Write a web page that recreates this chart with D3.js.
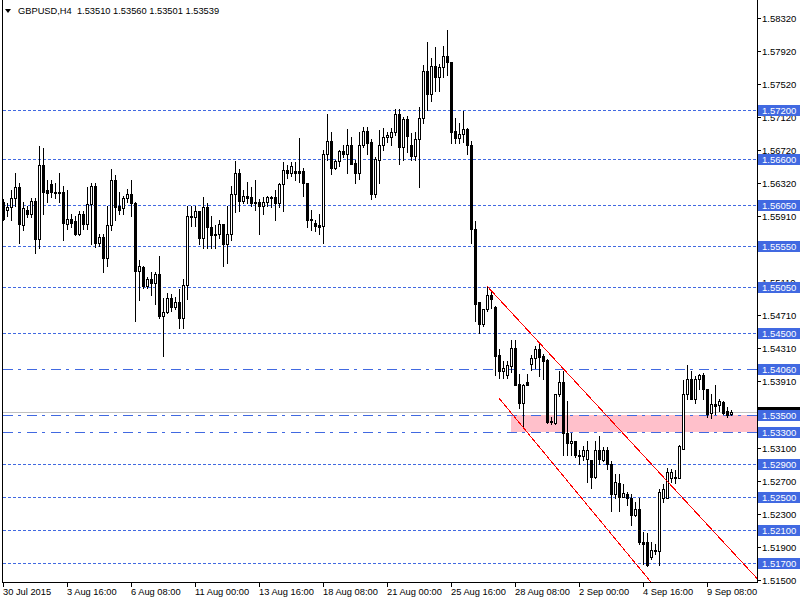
<!DOCTYPE html>
<html><head><meta charset="utf-8">
<script src="https://cdn.jsdelivr.net/npm/d3@7"></script>
<style>html,body{margin:0;padding:0;background:#fff;} svg{display:block;} text{font-family:"Liberation Sans",Arial,sans-serif;}</style>
</head><body><svg id="c" width="800" height="600"></svg>
<script>
const symbol = "GBPUSD,H4";
const open = [1.5609,1.5599,1.5602,1.5613,1.5626,1.5581,1.5599,1.5594,1.5610,1.5564,
1.5653,1.5623,1.5630,1.5621,1.5620,1.5620,1.5582,1.5588,1.5585,1.5570,
1.5594,1.5582,1.5606,1.5628,1.5559,1.5566,1.5540,1.5580,1.5635,1.5603,
1.5601,1.5613,1.5618,1.5607,1.5525,1.5530,1.5507,1.5515,1.5510,1.5521,
1.5470,1.5475,1.5492,1.5481,1.5487,1.5468,1.5508,1.5592,1.5590,1.5597,
1.5565,1.5602,1.5578,1.5570,1.5569,1.5582,1.5557,1.5570,1.5618,1.5644,
1.5610,1.5616,1.5614,1.5609,1.5609,1.5604,1.5608,1.5615,1.5614,1.5607,
1.5630,1.5647,1.5643,1.5646,1.5646,1.5646,1.5631,1.5588,1.5583,1.5580,
1.5579,1.5667,1.5682,1.5650,1.5658,1.5670,1.5667,1.5678,1.5656,1.5643,
1.5677,1.5694,1.5681,1.5618,1.5659,1.5678,1.5687,1.5687,1.5693,1.5715,
1.5675,1.5709,1.5677,1.5664,1.5685,1.5710,1.5767,1.5739,1.5773,1.5760,
1.5772,1.5786,1.5778,1.5694,1.5686,1.5691,1.5697,1.5677,1.5576,1.5487,
1.5460,1.5478,1.5496,1.5481,1.5423,1.5403,1.5398,1.5409,1.5431,1.5388,
1.5364,1.5390,1.5412,1.5419,1.5430,1.5421,1.5417,1.5343,1.5340,1.5375,
1.5390,1.5328,1.5316,1.5318,1.5302,1.5300,1.5297,1.5295,1.5275,1.5307,
1.5296,1.5307,1.5290,1.5254,1.5268,1.5251,1.5254,1.5249,1.5229,1.5236,
1.5196,1.5196,1.5178,1.5185,1.5185,1.5249,1.5249,1.5273,1.5273,1.5273,
1.5309,1.5376,1.5394,1.5370,1.5394,1.5398,1.5381,1.5352,1.5363,1.5362,
1.5366,1.5355,1.53510];
const high = [1.5612,1.5607,1.5623,1.5643,1.5631,1.5608,1.5604,1.5613,1.5613,1.5676,
1.5674,1.5635,1.5635,1.5631,1.5643,1.5628,1.5623,1.5594,1.5591,1.5598,
1.5598,1.5627,1.5632,1.5631,1.5569,1.5569,1.5603,1.5649,1.5641,1.5620,
1.5616,1.5624,1.5635,1.5608,1.5538,1.5531,1.5518,1.5523,1.5523,1.5543,
1.5492,1.5498,1.5497,1.5493,1.5503,1.5515,1.5604,1.5603,1.5603,1.5598,
1.5615,1.5607,1.5591,1.5580,1.5587,1.5582,1.5603,1.5628,1.5658,1.5648,
1.5623,1.5633,1.5626,1.5635,1.5612,1.5614,1.5616,1.5616,1.5623,1.5631,
1.5657,1.5653,1.5657,1.5657,1.5686,1.5650,1.5632,1.5599,1.5587,1.5594,
1.5671,1.5715,1.5693,1.5659,1.5671,1.5677,1.5697,1.5687,1.5659,1.5693,
1.5699,1.5699,1.5685,1.5663,1.5696,1.5698,1.5693,1.5698,1.5721,1.5721,
1.5711,1.5713,1.5692,1.5693,1.5724,1.5775,1.5802,1.5783,1.5797,1.5776,
1.5798,1.5817,1.5778,1.5710,1.5704,1.5719,1.5698,1.5682,1.5585,1.5487,
1.5478,1.5506,1.5502,1.5482,1.5430,1.5415,1.5415,1.5441,1.5441,1.5400,
1.5388,1.5400,1.5423,1.5434,1.5437,1.5424,1.5418,1.5348,1.5375,1.5403,
1.5403,1.5367,1.5328,1.5319,1.5308,1.5313,1.5319,1.5295,1.5318,1.5324,
1.5311,1.5311,1.5294,1.5278,1.5278,1.5266,1.5257,1.5254,1.5245,1.5249,
1.5208,1.5207,1.5196,1.5193,1.5260,1.5266,1.5286,1.5285,1.5283,1.5314,
1.5393,1.5411,1.5403,1.5397,1.5400,1.5401,1.5382,1.5375,1.5387,1.5370,
1.5367,1.5360,1.53560];
const low = [1.5586,1.5591,1.5587,1.5604,1.5559,1.5574,1.5590,1.5590,1.5546,1.5553,
1.5594,1.5609,1.5614,1.5613,1.5608,1.5562,1.5576,1.5578,1.5568,1.5568,
1.5576,1.5576,1.5558,1.5554,1.5555,1.5523,1.5531,1.5574,1.5587,1.5594,
1.5594,1.5608,1.5592,1.5464,1.5489,1.5504,1.5504,1.5495,1.5485,1.5468,
1.5421,1.5474,1.5476,1.5479,1.5456,1.5456,1.5491,1.5579,1.5579,1.5557,
1.5553,1.5553,1.5553,1.5553,1.5565,1.5531,1.5535,1.5562,1.5596,1.5598,
1.5607,1.5607,1.5603,1.5599,1.5570,1.5594,1.5603,1.5602,1.5587,1.5602,
1.5597,1.5638,1.5640,1.5635,1.5633,1.5616,1.5578,1.5575,1.5573,1.5570,
1.5559,1.5659,1.5642,1.5649,1.5652,1.5663,1.5643,1.5655,1.5632,1.5636,
1.5675,1.5667,1.5612,1.5614,1.5632,1.5671,1.5681,1.5677,1.5690,1.5655,
1.5659,1.5669,1.5659,1.5659,1.5627,1.5704,1.5720,1.5731,1.5743,1.5743,
1.5760,1.5763,1.5680,1.5680,1.5680,1.5681,1.5667,1.5559,1.5464,1.5450,
1.5458,1.5476,1.5480,1.5398,1.5395,1.5395,1.5395,1.5402,1.5386,1.5358,
1.5334,1.5386,1.5404,1.5407,1.5397,1.5394,1.5340,1.5339,1.5339,1.5373,
1.5302,1.5302,1.5302,1.5299,1.5290,1.5295,1.5269,1.5261,1.5274,1.5290,
1.5294,1.5285,1.5233,1.5249,1.5233,1.5250,1.5241,1.5217,1.5227,1.5194,
1.5169,1.5167,1.5175,1.5182,1.5168,1.5245,1.5249,1.5269,1.5268,1.5273,
1.5309,1.5370,1.5369,1.5364,1.5381,1.5370,1.5348,1.5346,1.5351,1.5355,
1.5351,1.5348,1.53501];
const close = [1.5588,1.5602,1.5613,1.5626,1.5582,1.5601,1.5594,1.5610,1.5564,1.5653,
1.5621,1.5619,1.5620,1.5619,1.5619,1.5583,1.5588,1.5583,1.5570,1.5594,
1.5582,1.5606,1.5628,1.5559,1.5566,1.5540,1.5580,1.5635,1.5602,1.5599,
1.5613,1.5618,1.5607,1.5525,1.5531,1.5507,1.5515,1.5510,1.5521,1.5470,
1.5475,1.5492,1.5481,1.5487,1.5468,1.5508,1.5592,1.5590,1.5597,1.5565,
1.5602,1.5578,1.5568,1.5568,1.5582,1.5557,1.5570,1.5618,1.5644,1.5610,
1.5616,1.5613,1.5607,1.5607,1.5604,1.5609,1.5615,1.5613,1.5607,1.5630,
1.5647,1.5643,1.5652,1.5644,1.5644,1.5631,1.5587,1.5586,1.5579,1.5578,
1.5667,1.5682,1.5650,1.5658,1.5670,1.5667,1.5677,1.5655,1.5643,1.5678,
1.5694,1.5680,1.5618,1.5660,1.5678,1.5687,1.5690,1.5693,1.5715,1.5675,
1.5709,1.5689,1.5664,1.5685,1.5710,1.5767,1.5739,1.5773,1.5760,1.5772,
1.5786,1.5778,1.5693,1.5686,1.5691,1.5697,1.5677,1.5576,1.5485,1.5460,
1.5478,1.5495,1.5491,1.5421,1.5403,1.5407,1.5411,1.5431,1.5387,1.5364,
1.5386,1.5386,1.5419,1.5430,1.5420,1.5415,1.5342,1.5341,1.5375,1.5390,
1.5328,1.5316,1.5318,1.5301,1.5300,1.5307,1.5307,1.5275,1.5307,1.5297,
1.5307,1.5290,1.5254,1.5269,1.5251,1.5256,1.5249,1.5229,1.5236,1.5196,
1.5194,1.5168,1.5186,1.5186,1.5257,1.5260,1.5281,1.5281,1.5275,1.5312,
1.5376,1.5394,1.5370,1.5394,1.5398,1.5381,1.5351,1.5363,1.5361,1.5367,
1.5353,1.5350,1.53539];

const dashedLevels = [1.5720,1.5660,1.5605,1.5555,1.5505,1.5450,1.5290,1.5250,1.5210,1.5170];
const dashDotLevels = [1.5406,1.5350,1.5330];
// price scale labels that remain visible (1.55510 and 1.53510 sit fully under level tags in the reference)
const priceTicks = [1.5832,1.5792,1.5752,1.5712,1.5672,1.5632,1.5591,1.5511,1.5471,1.5431,1.5391,1.5310,1.5270,1.5230,1.5190,1.5150];
const priceTickMarks = [1.5832,1.5792,1.5752,1.5712,1.5672,1.5632,1.5591,1.5551,1.5511,1.5471,1.5431,1.5391,1.5351,1.5310,1.5270,1.5230,1.5190,1.5150];
const timeTickBars = [0,16,32,48,64,80,96,112,128,144,160,176];
const timeTickLabels = ["30 Jul 2015","3 Aug 16:00","6 Aug 08:00","11 Aug 00:00","13 Aug 16:00","18 Aug 08:00","21 Aug 00:00","25 Aug 16:00","28 Aug 08:00","2 Sep 00:00","4 Sep 16:00","9 Sep 08:00"];
const upperLine = [[121,1.5506],[184,1.5175]];
const lowerLine = [[124,1.5370],[161,1.51527]];
const zoneBars = [127,260];
const zonePrices = [1.5350,1.5330];

const svg = d3.select("#c").attr("shape-rendering","crispEdges");
const n = open.length;
const x = d3.scaleLinear().domain([0, n-1]).range([3.3, 3.3 + 4*(n-1)]);
const y = d3.scaleLinear().domain([1.5170, 1.5720]).range([563.4, 110]);
const R = 757, B = 582, L = 2;
const BLUE = "#4169E1";
const fmt = d3.format(".5f");
const row = p => Math.round(y(p));

svg.append("defs").append("clipPath").attr("id","plot")
  .append("rect").attr("x",L+1).attr("y",0).attr("width",R-L-1).attr("height",B);

const plot = svg.append("g").attr("clip-path","url(#plot)");

plot.append("rect")
  .attr("x", Math.round(x(zoneBars[0])))
  .attr("y", row(zonePrices[0]))
  .attr("width", Math.round(x(zoneBars[1])) - Math.round(x(zoneBars[0])))
  .attr("height", row(zonePrices[1]) - row(zonePrices[0]))
  .attr("fill","#FFC0CB");

plot.selectAll(".dl").data(dashedLevels).join("line")
  .attr("x1",L+1).attr("x2",R).attr("y1",d=>row(d)+0.5).attr("y2",d=>row(d)+0.5)
  .attr("stroke",BLUE).attr("stroke-width",1).attr("stroke-dasharray","3,2");
plot.selectAll(".ddl").data(dashDotLevels).join("line")
  .attr("x1",L+1).attr("x2",R).attr("y1",d=>row(d)+0.5).attr("y2",d=>row(d)+0.5)
  .attr("stroke",BLUE).attr("stroke-width",1).attr("stroke-dasharray","10,5,3,6");
const last = close[n-1];
plot.append("line").attr("x1",L+1).attr("x2",R).attr("y1",row(last)+0.5).attr("y2",row(last)+0.5)
  .attr("stroke","#C0C0C0");

const cg = plot.append("g");
d3.range(n).forEach(i => {
  const cx = Math.floor(x(i));
  const o = open[i], c = close[i];
  const yh = row(high[i]), yl = row(low[i]);
  cg.append("rect").attr("x",cx).attr("y",yh).attr("width",1).attr("height",yl-yh+1).attr("fill","#000");
  const top = Math.min(row(o),row(c)), bot = Math.max(row(o),row(c));
  if (c < o || bot - top < 2) {
    cg.append("rect").attr("x",cx-1).attr("y",top).attr("width",3).attr("height",bot-top+1).attr("fill","#000");
  } else {
    cg.append("rect").attr("x",cx-0.5).attr("y",top+0.5).attr("width",2).attr("height",bot-top)
      .attr("fill","#fff").attr("stroke","#000").attr("stroke-width",1);
  }
});

function ray(pts){
  const [a,b] = pts;
  const s = (b[1]-a[1])/(b[0]-a[0]);
  const b2 = 260;
  return [[x(a[0]), y(a[1])],[x(b2), y(a[1]+s*(b2-a[0]))]];
}
[upperLine, lowerLine].forEach(pts => {
  const seg = ray(pts);
  plot.append("line").attr("x1",seg[0][0]).attr("y1",seg[0][1]).attr("x2",seg[1][0]).attr("y2",seg[1][1])
    .attr("stroke","#FF0000").attr("stroke-width",1);
});

svg.append("rect").attr("x",L).attr("y",0).attr("width",1).attr("height",B+1).attr("fill","#000");
svg.append("rect").attr("x",R).attr("y",0).attr("width",1).attr("height",B+1).attr("fill","#000");
svg.append("rect").attr("x",L).attr("y",B).attr("width",R-L+1).attr("height",1).attr("fill","#000");

const ax = svg.append("g");
priceTickMarks.forEach(p => {
  ax.append("rect").attr("x",R+1).attr("y",row(p)).attr("width",3).attr("height",1).attr("fill","#000");
});
priceTicks.forEach(p => {
  ax.append("text").attr("x",762).attr("y",row(p)+3.5).attr("font-size","9.5px").attr("fill","#000").text(fmt(p));
});
function tag(p, col, label){
  const r = row(p);
  ax.append("rect").attr("x",R+1).attr("y",r-5).attr("width",800-R-1).attr("height",11).attr("fill",col);
  ax.append("text").attr("x",762).attr("y",r+3.5).attr("font-size","9.5px").attr("fill","#fff").text(label);
}
tag(last, "#000", fmt(last));
dashedLevels.concat(dashDotLevels).forEach(p => tag(p, BLUE, fmt(p)));

timeTickBars.forEach((b,k) => {
  const cx = Math.floor(x(b));
  ax.append("rect").attr("x",cx).attr("y",B+1).attr("width",1).attr("height",4).attr("fill","#000");
  ax.append("text").attr("x",cx).attr("y",595).attr("font-size","9.3px").attr("fill","#000").text(timeTickLabels[k]);
});

svg.append("path").attr("d","M5,9 L11,9 L8,13 Z").attr("fill","#000").attr("shape-rendering","auto");
svg.append("text").attr("x",18).attr("y",14).attr("font-size","9.3px").attr("fill","#000")
  .attr("xml:space","preserve").style("white-space","pre")
  .text(symbol + "  " + [open[n-1],high[n-1],low[n-1],close[n-1]].map(fmt).join(" "));
</script></body></html>
